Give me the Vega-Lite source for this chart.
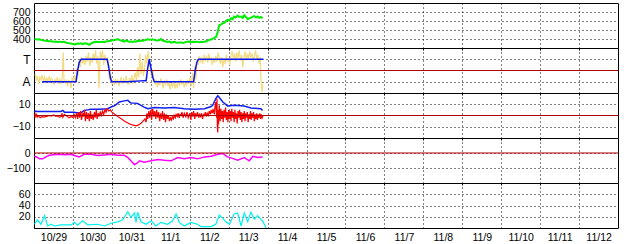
{
"$schema":"https://vega.github.io/schema/vega-lite/v6.json",
"autosize":{"type":"pad"},
"padding":{"left":4,"top":2,"right":0,"bottom":0},
"background":"#ffffff",
"spacing":0,
"bounds":"flush",
"config":{
 "view":{"stroke":"#000000","strokeWidth":1},
 "axis":{"gridColor":"#000000","gridDash":[1,3],"gridOpacity":1,"gridWidth":1,"domain":false,"ticks":false,"labelFont":"Liberation Sans","labelFontSize":10.5,"labelColor":"#000000","title":null,"labelPadding":4,"labelOverlap":false,"labelBound":false,"labelFlush":false},
 "axisY":{"minExtent":29,"maxExtent":29},
 "axisX":{"minExtent":0,"maxExtent":0,"ticks":true,"tickSize":2,"tickColor":"#000000","tickWidth":1},
 "concat":{"spacing":0}
},
"datasets":{
"green":[{"t":0.01,"v":396},{"t":0.05,"v":398},{"t":0.09,"v":395},{"t":0.14,"v":396},{"t":0.18,"v":390},{"t":0.22,"v":385},{"t":0.27,"v":382},{"t":0.31,"v":380},{"t":0.35,"v":378},{"t":0.39,"v":376},{"t":0.44,"v":375},{"t":0.48,"v":372},{"t":0.52,"v":370},{"t":0.56,"v":372},{"t":0.61,"v":368},{"t":0.65,"v":370},{"t":0.69,"v":368},{"t":0.74,"v":366},{"t":0.78,"v":370},{"t":0.82,"v":360},{"t":0.86,"v":355},{"t":0.91,"v":352},{"t":0.95,"v":350},{"t":0.99,"v":346},{"t":1.04,"v":340},{"t":1.08,"v":345},{"t":1.12,"v":350},{"t":1.16,"v":348},{"t":1.21,"v":352},{"t":1.25,"v":344},{"t":1.29,"v":352},{"t":1.34,"v":350},{"t":1.38,"v":345},{"t":1.42,"v":336},{"t":1.46,"v":348},{"t":1.51,"v":360},{"t":1.55,"v":366},{"t":1.6,"v":368},{"t":1.64,"v":366},{"t":1.68,"v":368},{"t":1.72,"v":367},{"t":1.76,"v":369},{"t":1.81,"v":366},{"t":1.85,"v":372},{"t":1.89,"v":375},{"t":1.93,"v":378},{"t":1.98,"v":380},{"t":2.02,"v":385},{"t":2.06,"v":388},{"t":2.11,"v":392},{"t":2.15,"v":398},{"t":2.19,"v":390},{"t":2.23,"v":385},{"t":2.28,"v":378},{"t":2.32,"v":372},{"t":2.36,"v":385},{"t":2.41,"v":375},{"t":2.45,"v":370},{"t":2.49,"v":372},{"t":2.54,"v":368},{"t":2.58,"v":375},{"t":2.62,"v":370},{"t":2.66,"v":380},{"t":2.71,"v":378},{"t":2.75,"v":382},{"t":2.79,"v":380},{"t":2.83,"v":385},{"t":2.88,"v":392},{"t":2.92,"v":396},{"t":2.96,"v":394},{"t":3.01,"v":392},{"t":3.05,"v":396},{"t":3.09,"v":390},{"t":3.13,"v":386},{"t":3.18,"v":384},{"t":3.22,"v":388},{"t":3.26,"v":400},{"t":3.3,"v":382},{"t":3.35,"v":378},{"t":3.39,"v":372},{"t":3.43,"v":368},{"t":3.48,"v":372},{"t":3.52,"v":360},{"t":3.56,"v":364},{"t":3.6,"v":368},{"t":3.65,"v":362},{"t":3.69,"v":358},{"t":3.73,"v":360},{"t":3.78,"v":362},{"t":3.82,"v":355},{"t":3.86,"v":360},{"t":3.91,"v":368},{"t":3.95,"v":370},{"t":3.99,"v":372},{"t":4.03,"v":368},{"t":4.08,"v":370},{"t":4.12,"v":366},{"t":4.16,"v":370},{"t":4.2,"v":368},{"t":4.25,"v":365},{"t":4.29,"v":370},{"t":4.33,"v":366},{"t":4.38,"v":368},{"t":4.42,"v":375},{"t":4.46,"v":382},{"t":4.5,"v":390},{"t":4.55,"v":395},{"t":4.59,"v":405},{"t":4.63,"v":412},{"t":4.67,"v":420},{"t":4.7,"v":450},{"t":4.72,"v":480},{"t":4.74,"v":520},{"t":4.76,"v":555},{"t":4.8,"v":560},{"t":4.85,"v":575},{"t":4.89,"v":580},{"t":4.93,"v":600},{"t":4.97,"v":613},{"t":5.02,"v":605},{"t":5.06,"v":630},{"t":5.1,"v":620},{"t":5.14,"v":650},{"t":5.18,"v":640},{"t":5.23,"v":660},{"t":5.27,"v":645},{"t":5.32,"v":650},{"t":5.36,"v":635},{"t":5.4,"v":665},{"t":5.45,"v":640},{"t":5.49,"v":620},{"t":5.53,"v":630},{"t":5.57,"v":635},{"t":5.62,"v":648},{"t":5.66,"v":655},{"t":5.7,"v":640},{"t":5.74,"v":650},{"t":5.78,"v":635},{"t":5.83,"v":645},{"t":5.87,"v":630}],
"mode":[{"t":0.21,"v":-1},{"t":1.08,"v":-1},{"t":1.12,"v":0},{"t":1.16,"v":0.7},{"t":1.21,"v":1},{"t":1.88,"v":1},{"t":1.92,"v":0.3},{"t":1.96,"v":-0.6},{"t":1.99,"v":-1},{"t":2.4,"v":-1},{"t":2.83,"v":-0.9},{"t":2.88,"v":-0.9},{"t":2.92,"v":0.2},{"t":2.96,"v":1},{"t":3.0,"v":0.3},{"t":3.05,"v":-0.6},{"t":3.09,"v":-1},{"t":4.1,"v":-1},{"t":4.14,"v":0},{"t":4.18,"v":0.7},{"t":4.22,"v":1},{"t":5.89,"v":1}],
"yel":[{"t":0.03,"v":-0.3},{"t":0.06,"v":-0.9},{"t":0.09,"v":-0.5},{"t":0.12,"v":-1.2},{"t":0.15,"v":-0.6},{"t":0.18,"v":-0.8},{"t":0.21,"v":-0.4},{"t":0.24,"v":-0.9},{"t":0.27,"v":-0.6},{"t":0.3,"v":-1.1},{"t":0.33,"v":-0.7},{"t":0.36,"v":-0.9},{"t":0.39,"v":-0.5},{"t":0.42,"v":-1.0},{"t":0.45,"v":-0.7},{"t":0.48,"v":-0.9},{"t":0.51,"v":-1.3},{"t":0.54,"v":-0.8},{"t":0.57,"v":-1.0},{"t":0.6,"v":-0.6},{"t":0.63,"v":-1.1},{"t":0.66,"v":-0.8},{"t":0.69,"v":-1.2},{"t":0.72,"v":-0.7},{"t":0.75,"v":1.6},{"t":0.77,"v":-0.9},{"t":0.8,"v":-1.1},{"t":0.83,"v":-0.8},{"t":0.86,"v":-1.4},{"t":0.89,"v":-0.9},{"t":0.92,"v":-1.0},{"t":0.95,"v":-1.6},{"t":0.98,"v":-0.7},{"t":1.01,"v":-0.9},{"t":1.04,"v":-0.4},{"t":1.07,"v":-1.1},{"t":1.1,"v":0.2},{"t":1.13,"v":-0.5},{"t":1.16,"v":0.9},{"t":1.19,"v":0.3},{"t":1.22,"v":1.2},{"t":1.25,"v":0.6},{"t":1.28,"v":1.1},{"t":1.31,"v":0.5},{"t":1.34,"v":1.3},{"t":1.37,"v":0.8},{"t":1.4,"v":1.6},{"t":1.43,"v":0.4},{"t":1.46,"v":1.2},{"t":1.49,"v":0.7},{"t":1.52,"v":1.5},{"t":1.55,"v":0.9},{"t":1.58,"v":1.8},{"t":1.61,"v":0.6},{"t":1.64,"v":1.3},{"t":1.67,"v":-1.6},{"t":1.7,"v":1.7},{"t":1.73,"v":1.0},{"t":1.76,"v":1.8},{"t":1.79,"v":0.5},{"t":1.82,"v":1.4},{"t":1.85,"v":0.8},{"t":1.88,"v":1.2},{"t":1.91,"v":0.2},{"t":1.94,"v":-0.8},{"t":1.97,"v":-0.3},{"t":2.0,"v":-1.2},{"t":2.03,"v":-0.9},{"t":2.06,"v":-1.3},{"t":2.09,"v":-0.7},{"t":2.12,"v":-1.1},{"t":2.15,"v":-0.8},{"t":2.18,"v":-1.4},{"t":2.21,"v":-1.0},{"t":2.24,"v":-0.6},{"t":2.27,"v":-1.2},{"t":2.3,"v":-0.8},{"t":2.33,"v":-1.1},{"t":2.36,"v":-0.5},{"t":2.39,"v":-0.9},{"t":2.42,"v":-1.3},{"t":2.45,"v":-0.7},{"t":2.48,"v":-1.0},{"t":2.51,"v":-0.4},{"t":2.54,"v":-1.2},{"t":2.57,"v":-0.6},{"t":2.6,"v":-0.2},{"t":2.63,"v":-0.9},{"t":2.66,"v":0.3},{"t":2.69,"v":-0.6},{"t":2.72,"v":1.5},{"t":2.75,"v":-0.3},{"t":2.78,"v":0.8},{"t":2.81,"v":-0.5},{"t":2.84,"v":0.2},{"t":2.87,"v":1.4},{"t":2.9,"v":0.6},{"t":2.93,"v":1.7},{"t":2.96,"v":0.9},{"t":2.99,"v":0.2},{"t":3.02,"v":-0.6},{"t":3.05,"v":0.1},{"t":3.08,"v":-0.9},{"t":3.11,"v":-1.2},{"t":3.14,"v":-0.8},{"t":3.17,"v":-1.5},{"t":3.2,"v":-1.0},{"t":3.23,"v":-1.3},{"t":3.26,"v":-0.7},{"t":3.29,"v":-1.1},{"t":3.32,"v":-1.6},{"t":3.35,"v":-0.9},{"t":3.38,"v":-1.2},{"t":3.41,"v":-0.8},{"t":3.44,"v":-1.4},{"t":3.47,"v":-1.0},{"t":3.5,"v":-1.7},{"t":3.53,"v":-1.1},{"t":3.56,"v":-1.4},{"t":3.59,"v":-0.9},{"t":3.62,"v":-1.6},{"t":3.65,"v":-1.2},{"t":3.68,"v":-1.5},{"t":3.71,"v":-1.0},{"t":3.74,"v":-1.3},{"t":3.77,"v":-0.8},{"t":3.8,"v":-1.2},{"t":3.83,"v":-1.0},{"t":3.86,"v":-1.5},{"t":3.89,"v":-1.1},{"t":3.92,"v":-1.3},{"t":3.95,"v":-0.9},{"t":3.98,"v":-1.2},{"t":4.01,"v":-0.6},{"t":4.04,"v":-1.4},{"t":4.07,"v":-0.2},{"t":4.1,"v":-1.6},{"t":4.13,"v":0.4},{"t":4.16,"v":-0.8},{"t":4.19,"v":1.0},{"t":4.22,"v":0.5},{"t":4.25,"v":1.3},{"t":4.28,"v":0.8},{"t":4.31,"v":1.1},{"t":4.34,"v":0.6},{"t":4.37,"v":1.4},{"t":4.4,"v":0.9},{"t":4.43,"v":1.2},{"t":4.46,"v":0.7},{"t":4.49,"v":1.5},{"t":4.52,"v":0.9},{"t":4.55,"v":1.2},{"t":4.58,"v":0.5},{"t":4.61,"v":1.0},{"t":4.64,"v":0.7},{"t":4.67,"v":1.3},{"t":4.7,"v":0.8},{"t":4.73,"v":1.6},{"t":4.76,"v":1.0},{"t":4.79,"v":0.6},{"t":4.82,"v":1.2},{"t":4.85,"v":0.3},{"t":4.88,"v":1.0},{"t":4.91,"v":0.6},{"t":4.94,"v":1.4},{"t":4.97,"v":0.8},{"t":5.0,"v":1.1},{"t":5.03,"v":0.5},{"t":5.06,"v":1.3},{"t":5.09,"v":1.7},{"t":5.12,"v":1.0},{"t":5.15,"v":1.5},{"t":5.18,"v":0.8},{"t":5.21,"v":1.6},{"t":5.24,"v":1.1},{"t":5.27,"v":1.8},{"t":5.3,"v":0.9},{"t":5.33,"v":1.4},{"t":5.36,"v":0.3},{"t":5.39,"v":1.2},{"t":5.42,"v":1.7},{"t":5.45,"v":0.9},{"t":5.48,"v":1.5},{"t":5.51,"v":1.0},{"t":5.54,"v":1.7},{"t":5.57,"v":1.2},{"t":5.6,"v":1.5},{"t":5.63,"v":0.8},{"t":5.66,"v":1.3},{"t":5.69,"v":1.8},{"t":5.72,"v":1.0},{"t":5.75,"v":1.4},{"t":5.78,"v":0.6},{"t":5.81,"v":1.2},{"t":5.84,"v":-1.5},{"t":5.86,"v":-1.9},{"t":5.88,"v":-1.2}],
"b3":[{"t":0.01,"v":4},{"t":0.09,"v":3.6},{"t":0.3,"v":3.6},{"t":0.5,"v":3.6},{"t":0.69,"v":3.6},{"t":0.74,"v":4.5},{"t":0.78,"v":3},{"t":0.95,"v":3},{"t":1.04,"v":3},{"t":1.08,"v":2.4},{"t":1.21,"v":2.4},{"t":1.25,"v":3.5},{"t":1.29,"v":4.5},{"t":1.38,"v":5},{"t":1.46,"v":5.5},{"t":1.64,"v":5.5},{"t":1.81,"v":5.8},{"t":1.89,"v":6},{"t":1.98,"v":7.5},{"t":2.06,"v":8.5},{"t":2.11,"v":9.7},{"t":2.19,"v":12},{"t":2.32,"v":13},{"t":2.41,"v":13.6},{"t":2.45,"v":12},{"t":2.49,"v":11.2},{"t":2.58,"v":11},{"t":2.66,"v":10.6},{"t":2.75,"v":9},{"t":2.83,"v":7.5},{"t":2.92,"v":6},{"t":3.09,"v":7},{"t":3.35,"v":6.7},{"t":3.6,"v":7},{"t":3.86,"v":6},{"t":4.12,"v":5.5},{"t":4.38,"v":6},{"t":4.55,"v":8},{"t":4.59,"v":9},{"t":4.67,"v":15},{"t":4.72,"v":17.5},{"t":4.76,"v":16},{"t":4.85,"v":12},{"t":4.97,"v":8.5},{"t":5.14,"v":9},{"t":5.4,"v":8.5},{"t":5.57,"v":6.7},{"t":5.83,"v":6},{"t":5.87,"v":4.5}],
"r3":[{"t":0.01,"v":1},{"t":0.03,"v":-1},{"t":0.05,"v":1.5},{"t":0.08,"v":-1.5},{"t":0.1,"v":0},{"t":0.13,"v":-1},{"t":0.16,"v":-2},{"t":0.2,"v":-1},{"t":0.25,"v":-1.5},{"t":0.3,"v":-1},{"t":0.35,"v":-0.5},{"t":0.4,"v":0},{"t":0.45,"v":-0.5},{"t":0.5,"v":0.5},{"t":0.55,"v":-0.5},{"t":0.6,"v":-0.5},{"t":0.65,"v":-1.5},{"t":0.7,"v":-1},{"t":0.72,"v":2},{"t":0.74,"v":-1.5},{"t":0.78,"v":1},{"t":0.82,"v":0},{"t":0.86,"v":-1},{"t":0.9,"v":-2},{"t":0.95,"v":-1},{"t":1.0,"v":-1.5},{"t":1.03,"v":1},{"t":1.06,"v":-2},{"t":1.1,"v":2},{"t":1.12,"v":-3},{"t":1.15,"v":3},{"t":1.17,"v":-2},{"t":1.2,"v":4},{"t":1.22,"v":-4},{"t":1.25,"v":2},{"t":1.27,"v":-1},{"t":1.3,"v":5},{"t":1.32,"v":-5},{"t":1.35,"v":3},{"t":1.37,"v":-3},{"t":1.4,"v":2},{"t":1.42,"v":-5},{"t":1.45,"v":4},{"t":1.47,"v":-3},{"t":1.5,"v":1},{"t":1.52,"v":-4},{"t":1.55,"v":3},{"t":1.57,"v":-2},{"t":1.6,"v":5},{"t":1.62,"v":-3},{"t":1.65,"v":2},{"t":1.67,"v":-1},{"t":1.7,"v":3},{"t":1.73,"v":0},{"t":1.76,"v":4},{"t":1.79,"v":1},{"t":1.82,"v":5},{"t":1.85,"v":3},{"t":1.88,"v":6},{"t":1.92,"v":4},{"t":1.96,"v":5},{"t":2.0,"v":3},{"t":2.04,"v":2},{"t":2.08,"v":1},{"t":2.12,"v":0},{"t":2.16,"v":-1},{"t":2.2,"v":-2},{"t":2.25,"v":-3},{"t":2.3,"v":-4.5},{"t":2.35,"v":-5.5},{"t":2.4,"v":-6.5},{"t":2.45,"v":-7.5},{"t":2.5,"v":-8},{"t":2.55,"v":-8.5},{"t":2.6,"v":-9},{"t":2.65,"v":-9},{"t":2.7,"v":-8},{"t":2.75,"v":-7},{"t":2.8,"v":-5},{"t":2.85,"v":-3},{"t":2.88,"v":-6},{"t":2.9,"v":2},{"t":2.92,"v":-3},{"t":2.95,"v":4},{"t":2.97,"v":-2},{"t":3.0,"v":5},{"t":3.02,"v":-4},{"t":3.05,"v":6},{"t":3.08,"v":-1},{"t":3.1,"v":4},{"t":3.13,"v":-3},{"t":3.15,"v":5},{"t":3.18,"v":-2},{"t":3.2,"v":3},{"t":3.23,"v":-5},{"t":3.25,"v":2},{"t":3.28,"v":-3},{"t":3.3,"v":4},{"t":3.33,"v":-4},{"t":3.35,"v":2},{"t":3.38,"v":-6},{"t":3.4,"v":1},{"t":3.43,"v":-3},{"t":3.45,"v":0},{"t":3.48,"v":-5},{"t":3.5,"v":-2},{"t":3.53,"v":-4},{"t":3.55,"v":-1},{"t":3.58,"v":-3},{"t":3.6,"v":0},{"t":3.63,"v":-2},{"t":3.65,"v":1},{"t":3.68,"v":-1},{"t":3.7,"v":2},{"t":3.73,"v":-2},{"t":3.75,"v":1},{"t":3.78,"v":0},{"t":3.8,"v":3},{"t":3.83,"v":-2},{"t":3.86,"v":2},{"t":3.9,"v":-1},{"t":3.93,"v":3},{"t":3.96,"v":-2},{"t":4.0,"v":2},{"t":4.03,"v":-4},{"t":4.05,"v":3},{"t":4.08,"v":-1},{"t":4.1,"v":4},{"t":4.13,"v":-3},{"t":4.15,"v":2},{"t":4.18,"v":-1},{"t":4.2,"v":3},{"t":4.23,"v":-2},{"t":4.25,"v":1},{"t":4.28,"v":-1},{"t":4.3,"v":2},{"t":4.33,"v":-3},{"t":4.35,"v":1},{"t":4.38,"v":0},{"t":4.4,"v":3},{"t":4.43,"v":-1},{"t":4.45,"v":2},{"t":4.48,"v":0},{"t":4.5,"v":4},{"t":4.53,"v":1},{"t":4.55,"v":5},{"t":4.58,"v":2},{"t":4.6,"v":6},{"t":4.63,"v":1},{"t":4.65,"v":8},{"t":4.67,"v":12},{"t":4.69,"v":-2},{"t":4.7,"v":15},{"t":4.71,"v":-10},{"t":4.72,"v":-15},{"t":4.73,"v":5},{"t":4.74,"v":-8},{"t":4.76,"v":9},{"t":4.78,"v":-5},{"t":4.8,"v":6},{"t":4.82,"v":-3},{"t":4.84,"v":4},{"t":4.86,"v":-6},{"t":4.88,"v":5},{"t":4.9,"v":-2},{"t":4.92,"v":7},{"t":4.94,"v":-4},{"t":4.96,"v":3},{"t":4.98,"v":-6},{"t":5.0,"v":5},{"t":5.02,"v":-3},{"t":5.04,"v":4},{"t":5.06,"v":-5},{"t":5.08,"v":6},{"t":5.1,"v":-2},{"t":5.12,"v":3},{"t":5.14,"v":-6},{"t":5.16,"v":5},{"t":5.18,"v":-3},{"t":5.2,"v":2},{"t":5.22,"v":-7},{"t":5.24,"v":4},{"t":5.26,"v":-2},{"t":5.28,"v":5},{"t":5.3,"v":-4},{"t":5.32,"v":3},{"t":5.34,"v":-6},{"t":5.36,"v":2},{"t":5.38,"v":-3},{"t":5.4,"v":4},{"t":5.42,"v":-5},{"t":5.44,"v":2},{"t":5.46,"v":-2},{"t":5.48,"v":3},{"t":5.5,"v":-6},{"t":5.52,"v":1},{"t":5.54,"v":-3},{"t":5.56,"v":4},{"t":5.58,"v":-4},{"t":5.6,"v":2},{"t":5.62,"v":-2},{"t":5.64,"v":3},{"t":5.66,"v":-5},{"t":5.68,"v":1},{"t":5.7,"v":-3},{"t":5.72,"v":2},{"t":5.74,"v":-4},{"t":5.76,"v":1},{"t":5.78,"v":-2},{"t":5.8,"v":2},{"t":5.82,"v":-3},{"t":5.84,"v":1},{"t":5.86,"v":-2},{"t":5.88,"v":0}],
"mag":[{"t":0.01,"v":-22},{"t":0.09,"v":-30},{"t":0.14,"v":-39},{"t":0.22,"v":-39},{"t":0.31,"v":-26},{"t":0.39,"v":-15},{"t":0.5,"v":-12},{"t":0.61,"v":-9},{"t":0.8,"v":-11},{"t":0.95,"v":-9},{"t":1.04,"v":-17},{"t":1.16,"v":-26},{"t":1.29,"v":-9},{"t":1.46,"v":-9},{"t":1.64,"v":-17},{"t":1.81,"v":-13},{"t":1.98,"v":-9},{"t":2.15,"v":-15},{"t":2.32,"v":-15},{"t":2.41,"v":-30},{"t":2.49,"v":-52},{"t":2.58,"v":-78},{"t":2.66,"v":-65},{"t":2.71,"v":-52},{"t":2.83,"v":-61},{"t":3.01,"v":-52},{"t":3.18,"v":-43},{"t":3.35,"v":-48},{"t":3.52,"v":-52},{"t":3.69,"v":-30},{"t":3.86,"v":-39},{"t":4.03,"v":-30},{"t":4.2,"v":-39},{"t":4.38,"v":-26},{"t":4.55,"v":-22},{"t":4.72,"v":-9},{"t":4.85,"v":-4},{"t":4.97,"v":-26},{"t":5.14,"v":-39},{"t":5.23,"v":-48},{"t":5.4,"v":-30},{"t":5.53,"v":-52},{"t":5.62,"v":-22},{"t":5.74,"v":-30},{"t":5.87,"v":-26}],
"cyan":[{"t":0.01,"v":6.7},{"t":0.09,"v":14.5},{"t":0.18,"v":6.7},{"t":0.27,"v":22},{"t":0.35,"v":3.6},{"t":0.44,"v":6.7},{"t":0.52,"v":3.6},{"t":0.69,"v":5.5},{"t":0.95,"v":5.5},{"t":1.04,"v":10},{"t":1.12,"v":5},{"t":1.25,"v":12.7},{"t":1.38,"v":5.5},{"t":1.64,"v":6.7},{"t":1.81,"v":3.6},{"t":1.98,"v":8.5},{"t":2.15,"v":11},{"t":2.28,"v":14.5},{"t":2.41,"v":29},{"t":2.49,"v":18.8},{"t":2.58,"v":26.7},{"t":2.62,"v":10},{"t":2.66,"v":28},{"t":2.75,"v":11},{"t":2.88,"v":6.7},{"t":3.01,"v":12.7},{"t":3.13,"v":3.6},{"t":3.26,"v":10},{"t":3.43,"v":6.7},{"t":3.56,"v":12.7},{"t":3.65,"v":25},{"t":3.73,"v":10},{"t":3.86,"v":3.6},{"t":4.03,"v":10},{"t":4.2,"v":6.7},{"t":4.29,"v":2.4},{"t":4.55,"v":2.4},{"t":4.67,"v":6.7},{"t":4.76,"v":23},{"t":4.85,"v":17},{"t":4.93,"v":11},{"t":5.02,"v":6.7},{"t":5.14,"v":25},{"t":5.23,"v":26.7},{"t":5.32,"v":3.6},{"t":5.4,"v":26.7},{"t":5.49,"v":11},{"t":5.57,"v":28},{"t":5.66,"v":15.8},{"t":5.74,"v":22},{"t":5.87,"v":12.7},{"t":5.96,"v":0.6}],
"zero":[{"v":0}]
},
"vconcat":[
{"width":584,"height":45,
 "layer":[
  {"data":{"name":"green"},"mark":{"type":"line","color":"#00ee00","strokeWidth":2},
   "encoding":{
    "x":{"field":"t","type":"quantitative","scale":{"domain":[0,15],"nice":false,"zero":false},"axis":{"values":[1,2,3,4,5,6,7,8,9,10,11,12,13,14],"grid":true,"labels":false}},
    "y":{"field":"v","type":"quantitative","scale":{"domain":[300,800],"nice":false,"zero":false},"axis":{"values":[400,500,600,700],"grid":true}}}}
 ]},
{"width":584,"height":45,
 "layer":[
  {"data":{"name":"yel"},"mark":{"type":"line","color":"#f3dc88","strokeWidth":1.3},
   "encoding":{
    "x":{"field":"t","type":"quantitative","scale":{"domain":[0,15],"nice":false,"zero":false},"axis":{"values":[1,2,3,4,5,6,7,8,9,10,11,12,13,14],"grid":true,"labels":false}},
    "y":{"field":"v","type":"quantitative","scale":{"domain":[-2,2],"nice":false,"zero":false},"axis":{"values":[-1,1],"grid":true,"labelExpr":"datum.value > 0 ? 'T' : 'A'","labelFontSize":12}}}},
  {"data":{"name":"zero"},"mark":{"type":"rule","color":"#b00000","strokeWidth":1.2},
   "encoding":{"y":{"field":"v","type":"quantitative"}}},
  {"data":{"name":"mode"},"mark":{"type":"line","color":"#0a14f0","strokeWidth":1.5},
   "encoding":{"x":{"field":"t","type":"quantitative"},"y":{"field":"v","type":"quantitative"}}}
 ]},
{"width":584,"height":45,
 "layer":[
  {"data":{"name":"b3"},"mark":{"type":"line","color":"#1020f0","strokeWidth":1.5},
   "encoding":{
    "x":{"field":"t","type":"quantitative","scale":{"domain":[0,15],"nice":false,"zero":false},"axis":{"values":[1,2,3,4,5,6,7,8,9,10,11,12,13,14],"grid":true,"labels":false}},
    "y":{"field":"v","type":"quantitative","scale":{"domain":[-20,20],"nice":false,"zero":false},"axis":{"values":[-10,0,10],"grid":true}}}},
  {"data":{"name":"r3"},"mark":{"type":"line","color":"#ff0000","strokeWidth":1.2},
   "encoding":{"x":{"field":"t","type":"quantitative"},"y":{"field":"v","type":"quantitative"}}},
  {"data":{"name":"zero"},"mark":{"type":"rule","color":"#b00000","strokeWidth":1.2},
   "encoding":{"y":{"field":"v","type":"quantitative"}}}
 ]},
{"width":584,"height":45,
 "layer":[
  {"data":{"name":"mag"},"mark":{"type":"line","color":"#ff00ff","strokeWidth":1.5},
   "encoding":{
    "x":{"field":"t","type":"quantitative","scale":{"domain":[0,15],"nice":false,"zero":false},"axis":{"values":[1,2,3,4,5,6,7,8,9,10,11,12,13,14],"grid":true,"labels":false}},
    "y":{"field":"v","type":"quantitative","scale":{"domain":[-200,100],"nice":false,"zero":false},"axis":{"values":[-100,0],"grid":true}}}},
  {"data":{"name":"zero"},"mark":{"type":"rule","color":"#b00000","strokeWidth":1.2},
   "encoding":{"y":{"field":"v","type":"quantitative"}}}
 ]},
{"width":584,"height":45,
 "layer":[
  {"data":{"name":"cyan"},"mark":{"type":"line","color":"#00f0f0","strokeWidth":1.2},
   "encoding":{
    "x":{"field":"t","type":"quantitative","scale":{"domain":[0,15],"nice":false,"zero":false},"axis":{"values":[0,1,2,3,4,5,6,7,8,9,10,11,12,13,14],"grid":true,"ticks":false,"labelOffset":19.5,"labelPadding":4,"labelFontSize":10.5,"minExtent":16,"maxExtent":16,"labelExpr":"['10/29','10/30','10/31','11/1','11/2','11/3','11/4','11/5','11/6','11/7','11/8','11/9','11/10','11/11','11/12'][datum.value]"}},
    "y":{"field":"v","type":"quantitative","scale":{"domain":[0,80],"nice":false,"zero":false},"axis":{"values":[20,40,60],"grid":true}}}}
 ]}
]
}
